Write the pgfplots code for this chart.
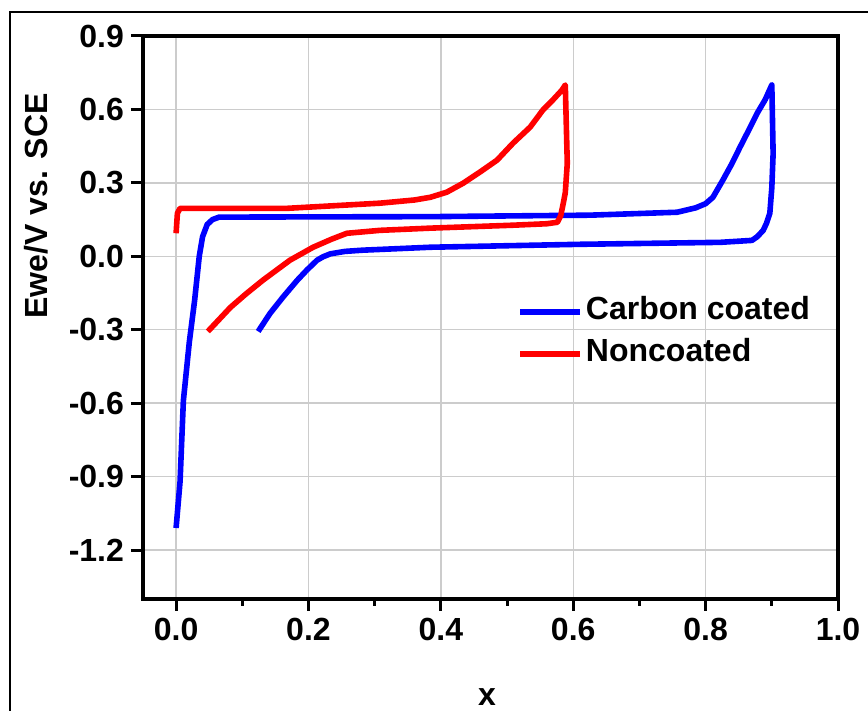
\documentclass[border=0pt]{standalone}
\usepackage{pgfplots}
\pgfplotsset{compat=1.18}
\usepackage{fontspec}
\setmainfont{Liberation Sans}
\definecolor{gridgray}{RGB}{204,204,204}
\begin{document}
\begin{tikzpicture}
\useasboundingbox (-71.5pt,-56pt) rectangle (362.5pt,299.5pt);
\draw[line width=1pt] (-66.5pt,-60pt) -- (-66.5pt,293.5pt) -- (370pt,293.5pt);
\begin{axis}[
  scale only axis,
  width=347.5pt, height=281.5pt,
  at={(0pt,0pt)}, anchor=south west,
  xmin=-0.05, xmax=1.0,
  ymin=-1.4, ymax=0.9,
  xtick={0,0.2,...,1.0},
  ytick={-1.2,-0.9,-0.6,-0.3,0,0.3,0.6,0.9},
  minor x tick num=1,
  xtick pos=lower, ytick pos=left,
  tick align=outside,
  major tick length=6pt, minor tick length=3.5pt,
  every tick/.style={black, line width=1.5pt},
  axis line style={line width=2pt},
  grid=major,
  major grid style={gridgray, line width=0.7pt},
  ticklabel style={font=\bfseries\fontsize{16}{19}\selectfont},
  /pgf/number format/assume math mode=true,
  xticklabel style={/pgf/number format/.cd, fixed, fixed zerofill, precision=1},
  yticklabel style={/pgf/number format/.cd, fixed, fixed zerofill, precision=1},
  xlabel={x},
  ylabel={Ewe/V vs. SCE},
  label style={font=\bfseries\fontsize{16}{19}\selectfont},
  xlabel style={at={(axis description cs:0.495,-0.174)}, anchor=center},
  ylabel style={at={(axis description cs:-0.154,0.698)}, anchor=center},
  legend style={at={(axis cs:0.515,-0.148)}, anchor=north west, draw=none, fill=none,
    font=\bfseries\fontsize{16}{19}\selectfont, inner sep=0pt,
    nodes={inner sep=1.5pt, text height=12pt, text depth=4pt}, row sep=2pt},
  legend cell align=left,
  legend image code/.code={\draw[#1] (0pt,0pt) -- (30pt,0pt);},
  clip=false,
]
\addplot[blue, line width=2.8pt, line join=round] coordinates {
(0.000,-1.110) (0.006,-0.920) (0.011,-0.590) (0.020,-0.350) (0.028,-0.180)
(0.035,0.000) (0.040,0.080) (0.047,0.130) (0.055,0.150) (0.065,0.160)
(0.200,0.161) (0.384,0.162) (0.625,0.168) (0.757,0.180) (0.785,0.198) (0.800,0.215)
(0.811,0.241) (0.826,0.311) (0.840,0.380) (0.852,0.446) (0.866,0.520) (0.878,0.585) (0.890,0.640) (0.900,0.700)
(0.902,0.420) (0.900,0.280) (0.897,0.176) (0.892,0.135) (0.887,0.106) (0.878,0.080) (0.870,0.065)
(0.822,0.057) (0.610,0.049) (0.384,0.037) (0.282,0.025) (0.255,0.020) (0.233,0.010)
(0.222,-0.002) (0.213,-0.016) (0.198,-0.055) (0.183,-0.098) (0.162,-0.165) (0.142,-0.233) (0.124,-0.307)
};
\addlegendentry{Carbon coated}
\addplot[red, line width=2.8pt, line join=round] coordinates {
(0.000,0.094) (0.002,0.176) (0.006,0.196) (0.168,0.196) (0.308,0.217)
(0.360,0.230) (0.384,0.241) (0.409,0.262) (0.434,0.299) (0.459,0.344) (0.485,0.393)
(0.509,0.462) (0.535,0.528) (0.554,0.597) (0.569,0.638) (0.583,0.679)
(0.588,0.700) (0.591,0.380) (0.588,0.260) (0.585,0.217) (0.581,0.165) (0.576,0.139) (0.560,0.133) (0.509,0.127)
(0.384,0.115) (0.308,0.106) (0.258,0.094) (0.235,0.070) (0.207,0.037) (0.172,-0.016)
(0.131,-0.098) (0.105,-0.155) (0.082,-0.209) (0.048,-0.307)
};
\addlegendentry{Noncoated}
\end{axis}
\end{tikzpicture}
\end{document}
